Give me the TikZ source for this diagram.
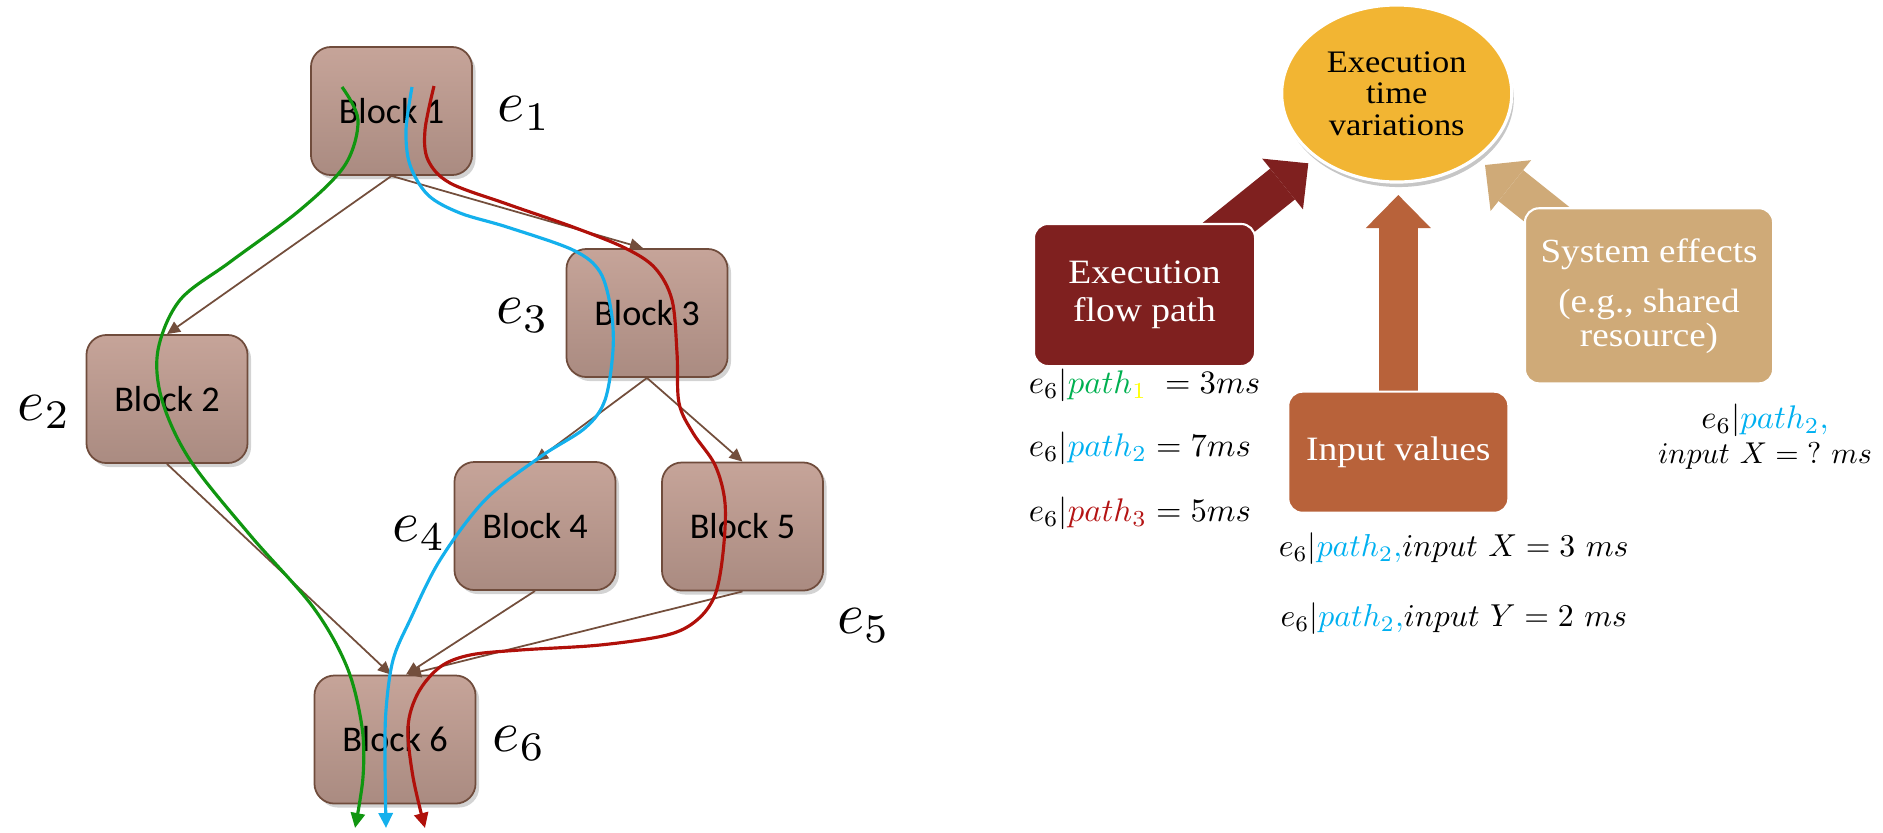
\documentclass[tikz,border=0pt]{standalone}
\usepackage{fontspec}
\newfontfamily\calibri{Carlito}
\newfontfamily\georgia[FakeStretch=1.1]{Liberation Serif}
\usetikzlibrary{arrows.meta,shapes.geometric,shadows,backgrounds}
\definecolor{blkTop}{RGB}{198,164,153}
\definecolor{blkBot}{RGB}{170,139,129}
\definecolor{blkLine}{RGB}{112,76,60}
\definecolor{edgecol}{RGB}{115,78,60}
\definecolor{pgreen}{RGB}{16,150,16}
\definecolor{pblue}{RGB}{20,176,236}
\definecolor{pred}{RGB}{176,16,10}
\definecolor{tgreen}{RGB}{0,176,80}
\definecolor{tblue}{RGB}{0,176,240}
\definecolor{tred}{RGB}{180,20,20}
\definecolor{tyellow}{RGB}{255,255,0}
\definecolor{ellfill}{RGB}{242,181,51}
\definecolor{flowc}{RGB}{127,32,31}
\definecolor{inputc}{RGB}{184,98,58}
\definecolor{sysc}{RGB}{207,170,120}
\begin{document}
\begin{tikzpicture}[x=0.01cm,y=-0.01cm,
  blockbox/.style={rectangle, rounded corners=0.2cm, minimum width=1.61cm, minimum height=1.28cm,
    draw=blkLine, line width=0.5pt, top color=blkTop, bottom color=blkBot,
    drop shadow={shadow xshift=0.035cm, shadow yshift=-0.04cm, opacity=0.35},
    font=\calibri\fontsize{10.3}{12}\selectfont},
  elabel/.style={anchor=base west, inner sep=0pt, scale=1.65, font=\fontsize{10}{12}\selectfont},
  edgearrow/.style={draw=edgecol, line width=0.5pt, -{Triangle[length=0.13cm,width=0.12cm]}},
  flowcurve/.style={line width=0.9pt, -{Triangle[length=0.15cm,width=0.14cm]}},
  ellnode/.style={ellipse, draw=white, line width=0.9pt, fill=ellfill, minimum width=2.3cm,
    minimum height=1.77cm, inner sep=0pt, align=center,
    drop shadow={shadow xshift=0.02cm, shadow yshift=-0.05cm, opacity=0.45},
    font=\georgia\fontsize{8.9}{9}\selectfont},
  rbox/.style={rectangle, rounded corners=0.14cm, draw=white, line width=0.6pt, text=white,
    align=center, inner sep=0pt, font=\georgia\fontsize{9.7}{10.7}\selectfont},
  bigarrow/.style={line width=0.395cm, -{Triangle[length=0.33cm, width=0.65cm, line width=0pt]}},
  formula/.style={inner sep=0pt, anchor=base west, scale=0.93, font=\fontsize{10}{12}\selectfont}
]
\useasboundingbox (0,0) rectangle (1883,832);

% ---------- left graph ----------
\node[blockbox] (b1) at (391.5,111) {Block 1};
\node[blockbox] (b2) at (167,399) {Block 2};
\node[blockbox] (b3) at (647,313) {Block 3};
\node[blockbox] (b4) at (535,526) {Block 4};
\node[blockbox] (b5) at (742.5,526.5) {Block 5};
\node[blockbox] (b6) at (395,739.5) {Block 6};

\node[elabel] (e1) at (496.7,121.7) {$e_1$};
\node[elabel] (e2) at (16.7,420) {$e_2$};
\node[elabel] (e3) at (495,323.3) {$e_3$};
\node[elabel] (e4) at (391.7,541.7) {$e_4$};
\node[elabel] (e5) at (836,633.3) {$e_5$};
\node[elabel] (e6) at (491.7,751.7) {$e_6$};

\draw[edgearrow] (b1.south) -- (b2.north);
\draw[edgearrow] (b1.south) -- ([xshift=-0.04cm]b3.north);
\draw[edgearrow] (b3.south) -- (b4.north);
\draw[edgearrow] (b3.south) -- (b5.north);
\draw[edgearrow] (b2.south) -- ([xshift=-0.04cm]b6.north);
\draw[edgearrow] (b4.south) -- ([xshift=0.11cm]b6.north);
\draw[edgearrow] (b5.south) -- ([xshift=0.13cm]b6.north);

\draw[flowcurve, draw=pgreen] plot[smooth, tension=0.55] coordinates {
  (342,87) (358,120) (345,165) (300,210) (230,262) (180,300) (158,350) (162,400)
  (190,460) (250,535) (313,607) (347,667) (362,727) (363,777) (355,828)};
\draw[flowcurve, draw=pblue] plot[smooth, tension=0.55] coordinates {
  (412,87) (406,130) (410,165) (428,195) (460,213) (507,227) (573,250) (600,272)
  (611,310) (613,350) (605,400) (585,428) (540,457) (485,500) (440,560) (410,620)
  (393,660) (386,710) (385,760) (386,828)};
\draw[flowcurve, draw=pred] plot[smooth, tension=0.55] coordinates {
  (434,86) (425,130) (428,160) (450,183) (507,204) (573,227) (625,248) (655,268)
  (672,300) (677,353) (679,403) (693,433) (715,465) (725,503) (723,553) (715,595)
  (697,620) (667,635) (600,645) (520,650) (470,655) (440,667) (418,693) (408,727)
  (413,777) (425,828)};

% ---------- right diagram ----------
\node[ellnode] (etv) at (1396.7,93.5) {Execution\\time\\variations};
\node[rbox, fill=flowc, minimum width=2.21cm, minimum height=1.42cm] (flow) at (1144.5,295) {Execution\\flow path};
\node[rbox, fill=inputc, minimum width=2.2cm, minimum height=1.21cm] (inp) at (1398.3,452.2) {Input values};
\node[rbox, fill=sysc, minimum width=2.48cm, minimum height=1.75cm,
  font=\georgia\fontsize{9.6}{9.6}\selectfont] (sys) at (1649,295.8) {System effects\\[4.7pt](e.g., shared\\resource)};

\coordinate (t1) at (1308.3,163.3);
\coordinate (t2) at (1398.3,195);
\coordinate (t3) at (1485,165);
\begin{scope}[on background layer]
\draw[bigarrow, draw=flowc] (flow.center) -- (t1);
\draw[bigarrow, draw=inputc] (inp.center) -- (t2);
\draw[bigarrow, draw=sysc] (sys.center) -- (t3);
\end{scope}

\node[formula] (f1) at (1028.3,393.3) {$e_6|{\color{tgreen}path}_{\color{tyellow}1}\;=3ms$};
\node[formula] (f2) at (1028.3,456.7) {$e_6|{\color{tblue}path_2}=7ms$};
\node[formula] (f3) at (1028.3,521.7) {$e_6|{\color{tred}path_3}=5ms$};
\node[formula, scale=0.97] (f4) at (1278.3,556.7) {$e_6|{\color{tblue}path_2,}input\ X=3\ ms$};
\node[formula, scale=0.97] (f5) at (1280,626.7) {$e_6|{\color{tblue}path_2,}input\ Y=2\ ms$};
\node[formula, anchor=base] (f6) at (1765,428.3) {$e_6|{\color{tblue}path_2,}$};
\node[formula, anchor=base, scale=0.92] (f7) at (1765,463.3) {$input\ X={?}\ ms$};
\end{tikzpicture}
\end{document}
